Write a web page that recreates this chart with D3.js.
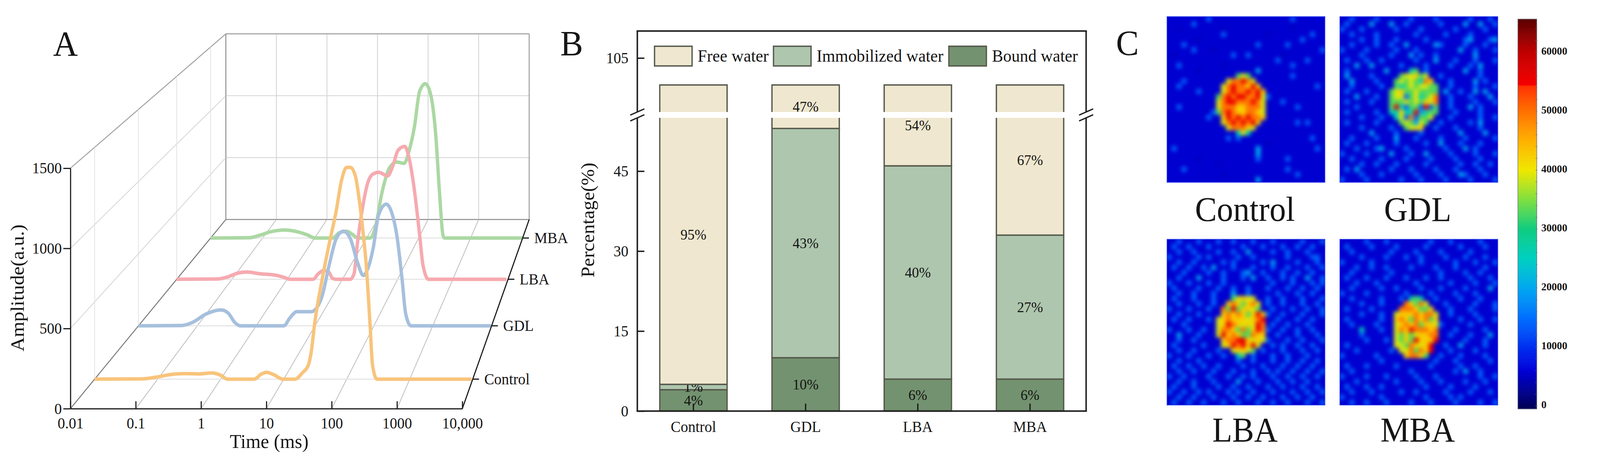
<!DOCTYPE html>
<html><head><meta charset="utf-8">
<script src="https://cdn.jsdelivr.net/npm/d3@7/dist/d3.min.js"></script>
<style>html,body{margin:0;padding:0;background:#fff;overflow:hidden}svg{display:block;width:100vw;height:100vh}text{font-family:"Liberation Serif",serif;fill:#151515}</style>
</head><body><svg id="c" viewBox="0 0 4304 1184" preserveAspectRatio="none"></svg>
<script>
// ---------- Panel A data (log10 of time in ms, amplitude a.u.) ----------
const seriesNames = ["Control","GDL","LBA","MBA"];
const timeTicks = [0.01,0.1,1,10,100,1000,10000];
const timeTickLabels = ["0.01","0.1","1","10","100","1000","10,000"];
const ampTicks = [0,500,1000,1500];
const controlLogT = [-2,-1.24,-1.02,-0.79,-0.57,-0.34,-0.14,0,0.11,0.53,0.65,0.73,0.84,0.99,1.18,1.30,1.39,1.44,1.49,1.60,1.71,1.83,1.92,2.0,2.06,2.14,2.2,2.25,2.31,2.37,2.41,2.48,3.98];
const controlAmp  = [0,2,13,30,36,34,40,25,0,0,34,44,29,0,0,42,90,185,356,623,852,1081,1290,1370,1370,1309,1157,985,738,356,90,0,0];
const gdlLogT = [-2,-1.27,-1.09,-0.85,-0.60,-0.48,-0.36,-0.27,0.47,0.57,0.69,0.94,1.03,1.12,1.24,1.36,1.48,1.60,1.72,1.82,1.90,1.99,2.08,2.21,2.30,2.39,2.48,2.54,2.63,3.99];
const gdlAmp  = [0,2,22,82,110,90,22,0,0,53,98,98,125,206,421,604,655,604,441,349,400,543,768,843,788,625,319,84,0,0];
const lbaLogT = [-2,-1.27,-1.08,-0.89,-0.73,-0.50,-0.21,-0.05,0.05,0.47,0.56,0.66,0.76,0.82,0.88,1.14,1.21,1.27,1.37,1.46,1.56,1.66,1.82,1.91,2.01,2.13,2.20,2.30,2.40,2.46,2.56,3.97];
const lbaAmp  = [0,2,17,46,54,41,30,13,0,0,39,65,50,7,0,0,39,257,540,714,779,790,764,834,954,982,910,671,322,104,0,0];
const mbaLogT = [-2,-1.26,-1.06,-0.85,-0.58,-0.30,-0.13,0,0.35,0.48,0.62,0.72,0.83,1.07,1.17,1.30,1.44,1.58,1.72,1.82,1.92,2.02,2.13,2.23,2.33,2.40,2.47,2.50,4.0];
const mbaAmp  = [0,2,21,49,63,46,23,0,0,42,53,30,0,0,88,366,551,597,586,690,875,1153,1211,1130,806,366,19,0,0];

// ---------- Panel B data ----------
const groups = ["Control","GDL","LBA","MBA"];
const layerNames = ["Bound water","Immobilized water","Free water"];
const boundWater = [4,10,6,6];
const immobilizedWater = [1,43,40,27];
const freeWater = [95,47,54,67];
const percentTicks = [0,15,30,45,105];

// ---------- Panel C data: 32x32 hand-read signal levels (0-9), one image per array ----------
const panelNames = ["Control","GDL","LBA","MBA"];
const levelValues = [4800,5600,14000,20000,26000,33000,39000,42500,49500,55500];
const colorbarTicks = [0,10000,20000,30000,40000,50000,60000];
const controlImage = [
"11111111211111111111111112111111","11111211111111111111111111111111","11011111111011111111111110111111","11111111111211111111011111111211",
"11111101111111111111111111121111","11121111111111111121111121111111","11111211101111111111111111111112","10111111111112112111111011111111",
"11111111111111111111112111112111","11211111111011111111111112111111","11111101111111111131111111111111","11111111111111565111111112111111",
"111211111111"+"688986"+"11111111111111","11211111111"+"68988797"+"1111111111121","11111121111"+"689889897"+"111111111111",
"1111111111"+"5898998896"+"211111111111","1111111111"+"6899888986"+"111211111111","1121111111"+"6888778886"+"111111211111",
"1111111112"+"5898778876"+"111111111111","11111111211"+"798989887"+"111111111111","11111111111"+"68989897"+"1111111212111",
"111111111111"+"688876"+"11111111111111","11111111111111"+"464"+"111111111111111",
"11111111111121211111111111111211","11111111111111111111011111111111","12111111111111111131111111111121","11111111111111111131111111111111",
"11111101111111111121111121111111","11111111110111111111111111111111","11121111111111111111111121111111","11111111111011111111111111211111","11111111111111111131111111111111"];
const gdlImage = [
"11211112111111211112111111211121","12111131113112111111211113113112","21112111111211112111111211111211","11211112111111121111121111211111",
"11112112111211111211111112311123","11211112112113111113211112111211","21111211111211121111111131121112","11112111112111312112111111131111",
"12111211211111121113111211121112","11131131111121111211112111213111","1211111113"+"1111"+"45"+"121111111"+"3"+"112111",
"131111211111"+"566756"+"11211111112111","11311112111"+"56565487"+"111211113"+"1211","11211111211"+"545656655"+"112111121112",
"1211121111"+"5675565555"+"131121131311","1113111211"+"5662564568"+"112111211131","1211112111"+"5556565768"+"112111121112",
"1112111111"+"5942552925"+"112111312111","1211111211"+"4474493455"+"111211112111","11112111211"+"46282556"+"1112111112112",
"121111121111"+"565365"+"11211111213111","1111211111211"+"5667"+"112111211112111",
"11111131111211112111111131111311","11211112111311121111211112111112","12111211111211111211311121112111","11121112311112111111121113121111",
"21111211113111211311112111121112","11211111211112111121111211112111","11112112111211111211111121121121","12131111112111211112111211112111",
"11112111211111121111211132111211","21111211111121112111121111211112"];
const lbaImage = [
"11211121112112111211121111121112","12112111211111121112111211211211","11211211112112113111121121112111","21111121211111211211111121111221",
"11211211111212111112131111211121","12112112131112111211121121112112","11121111211211123112111211211211","11211131111211121311211212113112",
"21112111211211111111121112111212","12111121112112112111211121121121","11211211121113112111112111211211",
"1211121112111"+"56766"+"11211211121112","112111211211"+"7875786"+"1211211121121","21112111211"+"85957765"+"1121112112112",
"11211121111"+"787875797"+"211211121112","1211211121"+"6787776789"+"112111211211","1112111111"+"6798767698"+"121121112111",
"2111211211"+"6887585798"+"211211211211","1131112111"+"6978755877"+"112111211121","11211211111"+"788997676"+"211121121112",
"12111112111"+"67989796"+"1121211211211","1121121111211"+"67765"+"12111211121121","21112111211211"+"45"+"1211121121112111",
"11211121111111211211121121121121","12112112112111121112111211211211","11211211121112111211212112112112","21121111211121121211121121121121",
"11211211121111311121112112112111","12111211112112112111211211121121","21121121211121211211121112112112","11211211121112112112111211211211","12112112111211211121121121112112"];
const mbaImage = [
"11111211121111111121112111112111","12111121111211111211111121111211","11211111112111121111211111211111","11112111121112112111121112111211",
"21111121111111112111111211121112","11121121121111211112111211111211","11211111112111111111211112112111","12111211121112111211211111211121",
"11121112111111121111112111121112","11211111211211112111211112111131","21111211111112111121111211121111",
"11211111211121"+"454"+"112111121112111","1111211121111"+"87586"+"11121111121112","121111211111"+"8887557"+"1112111211112",
"11112111211"+"677787886"+"112111121111","12111111211"+"787587857"+"111121112112","11211112111"+"678785776"+"211111211111",
"11114111211"+"687988878"+"111211111211","11112111111"+"657567788"+"112111211131","11111211121"+"657597779"+"111112111211",
"12111111111"+"66587679"+"1121131111211","111211111121"+"6685879"+"1112111121111","2111111211111"+"78875"+"11211121111211",
"11111111211111111112111211111121","12111211111211111121111121121111","11211111111111211111111213112111","21111211121111121112111111112112",
"11121111111211112111211112111211","12111211211111111211112111121111","11211121111121121111121111211121","21111111211111111211112121111111","11211211121111211121111211112112"];

// ---------- Setup ----------
const svg = d3.select("#c");
const defs = svg.append("defs");
const lerp = (a,b,t)=>a+(b-a)*t;
const lineG = (g,x1,y1,x2,y2,col,w)=>g.append("line").attr("x1",x1).attr("y1",y1).attr("x2",x2).attr("y2",y2).attr("stroke",col).attr("stroke-width",w);
const label = (g,x,y,txt,size,anchor)=>g.append("text").attr("x",x).attr("y",y).attr("font-size",size).attr("text-anchor",anchor||"start").text(txt);

label(svg,143,143,"A",92);
label(svg,1507,142,"B",92);
label(svg,3002,141,"C",92);

// ---------- Panel A: perspective box ----------
const A = svg.append("g");
const box = {fx0:189.4,fx1:1243.6,fy:1047.3,fh:616.2,bx0:607.5,bx1:1423.5,by:562.5,bh:475.7};
const unitX = d3.scaleLog().domain([0.01,10000]).range([0,1]);
const unitY = d3.scaleLinear().domain([0,1500]).range([0,1]);
const depth = d3.scaleOrdinal(seriesNames,[0.156,0.438,0.684,0.902]);
const proj = (time,amp,t)=>[
  lerp(lerp(box.fx0,box.bx0,t),lerp(box.fx1,box.bx1,t),unitX(time)),
  lerp(box.fy,box.by,t)-unitY(amp)*lerp(box.fh,box.bh,t)
];
const seg = (a,b,col,w)=>lineG(A,a[0],a[1],b[0],b[1],col,w);
const tMin=0.01,tMax=10000;
// back wall
timeTicks.slice(1,-1).forEach(v=>seg(proj(v,0,1),proj(v,1500,1),"#cfcfcf",2));
[500,1000].forEach(v=>seg(proj(tMin,v,1),proj(tMax,v,1),"#d4d4d4",2));
seg(proj(tMin,1500,1),proj(tMax,1500,1),"#9a9a9a",2.5);
seg(proj(tMax,0,1),proj(tMax,1500,1),"#9a9a9a",2.5);
seg(proj(tMin,0,1),proj(tMin,1500,1),"#8a8a8a",2.5);
seg(proj(tMin,0,1),proj(tMax,0,1),"#8a8a8a",2.5);
// left wall
[500,1000].forEach(v=>seg(proj(tMin,v,0),proj(tMin,v,1),"#d4d4d4",2));
seg(proj(tMin,1500,0),proj(tMin,1500,1),"#a0a0a0",2.5);
seriesNames.forEach(s=>seg(proj(tMin,0,depth(s)),proj(tMin,1500,depth(s)),"#e2e2e2",2));
// floor
timeTicks.slice(1,-1).forEach(v=>seg(proj(v,0,0),proj(v,0,1),"#bcbcbc",2));
seg(proj(tMin,0,0),proj(tMin,0,1),"#777",2.5);
seriesNames.forEach(s=>seg(proj(tMin,0,depth(s)),proj(tMax,0,depth(s)),"#e6e6e6",3));
// curves, back to front
const curveColors = {Control:"#f8c47c",GDL:"#a6c0dd",LBA:"#f6aab0",MBA:"#abd8a3"};
const curveData = {Control:[controlLogT,controlAmp],GDL:[gdlLogT,gdlAmp],LBA:[lbaLogT,lbaAmp],MBA:[mbaLogT,mbaAmp]};
const lineGen = d3.line().curve(d3.curveMonotoneX);
seriesNames.slice().reverse().forEach(s=>{
  const [lt,am]=curveData[s];
  A.append("path").attr("fill","none").attr("stroke",curveColors[s]).attr("stroke-width",9).attr("stroke-linejoin","round")
   .attr("d",lineGen(lt.map((l,i)=>proj(Math.pow(10,l),am[i],depth(s)))));
});
// depth axis
seg(proj(tMax,0,0),proj(tMax,0,1),"#1a1a1a",3);
seriesNames.forEach(s=>{
  const p=proj(tMax,0,depth(s));
  lineG(A,p[0],p[1],p[0]+17,p[1],"#1a1a1a",3);
  A.append("text").attr("x",p[0]+31).attr("y",p[1]).attr("dy","0.33em").attr("font-size",40).text(s);
});
// front axes
const timeAxisScale = d3.scaleLog().domain([tMin,tMax]).range([box.fx0,box.fx1]);
const ampAxisScale = d3.scaleLinear().domain([0,1500]).range([box.fy,box.fy-box.fh]);
const gx=A.append("g").attr("transform",`translate(0,${box.fy})`)
  .call(d3.axisBottom(timeAxisScale).tickValues(timeTicks).tickFormat((d,i)=>timeTickLabels[i]).tickSize(-19).tickSizeOuter(0).tickPadding(22));
const gy=A.append("g").attr("transform",`translate(${box.fx0},0)`)
  .call(d3.axisLeft(ampAxisScale).tickValues(ampTicks).tickFormat(d3.format("d")).tickSize(19).tickSizeOuter(0).tickPadding(4));
[gx,gy].forEach(g=>{g.selectAll("text").attr("font-size",40).attr("font-family",'"Liberation Serif",serif').attr("fill","#151515");
  g.selectAll("path,line").attr("stroke","#1a1a1a").attr("stroke-width",3);});
label(A,724,1148,"Time (ms)",51,"middle");
A.append("text").attr("transform","translate(64,738) rotate(-90)").attr("text-anchor","middle").attr("font-size",51).text("Amplitude(a.u.)");

// ---------- Panel B ----------
const B = svg.append("g");
const fr={l:1714.4,r:2921.7,t:79.5,b:1053.4};
const yB = d3.scaleLinear().domain([0,55,95,110]).range([fr.b,302,287,fr.t]);
const xB = d3.scaleBand().domain(groups).range([fr.l,fr.r]).padding(0.4).paddingOuter(0.2);
const layerColor = d3.scaleOrdinal(layerNames,["#73926f","#aec6ad","#efe7cf"]);
const stackRows = groups.map((g,i)=>({group:g,"Bound water":boundWater[i],"Immobilized water":immobilizedWater[i],"Free water":freeWater[i]}));
const stacked = d3.stack().keys(layerNames)(stackRows);
const bStroke="#55584c";
stacked.forEach(layer=>{
  layer.forEach(d=>{
    const [a,b]=d, x0=xB(d.data.group), x1=x0+xB.bandwidth();
    const parts = (a<55&&b>95) ? [[a,55,true,false],[95,b,false,true]] : [[a,b,true,true]];
    parts.forEach(([lo,hi,hasBottom,hasTop])=>{
      B.append("rect").attr("x",x0).attr("y",yB(hi)).attr("width",x1-x0).attr("height",yB(lo)-yB(hi)).attr("fill",layerColor(layer.key));
      const p=d3.path();
      p.moveTo(x0,yB(lo)); p.lineTo(x0,yB(hi));
      if(hasTop) p.lineTo(x1,yB(hi)); else p.moveTo(x1,yB(hi));
      p.lineTo(x1,yB(lo));
      if(hasBottom) p.lineTo(x0,yB(lo));
      B.append("path").attr("d",p.toString()).attr("fill","none").attr("stroke",bStroke).attr("stroke-width",3.5);
    });
    B.append("text").attr("x",(x0+x1)/2).attr("y",(yB(a)+yB(b))/2).attr("dy","0.33em").attr("text-anchor","middle").attr("font-size",38)
      .text(`${b-a}%`);
  });
});
const gxB=B.append("g").attr("transform",`translate(0,${fr.b})`)
  .call(d3.axisBottom(xB).tickSize(-19).tickSizeOuter(0).tickPadding(25));
const gyB=B.append("g").attr("transform",`translate(${fr.l},0)`)
  .call(d3.axisLeft(yB).tickValues(percentTicks).tickSize(-19).tickSizeOuter(0).tickPadding(24));
[gxB,gyB].forEach(g=>{g.select(".domain").remove();g.selectAll("text").attr("font-size",40).attr("font-family",'"Liberation Serif",serif').attr("fill","#151515");
  g.selectAll("line").attr("stroke","#1a1a1a").attr("stroke-width",3.5);});
const fc="#1f1f1f", fw=4;
lineG(B,fr.l-2,fr.t,fr.r+2,fr.t,fc,fw);
lineG(B,fr.l-2,fr.b,fr.r+2,fr.b,fc,fw);
[fr.l,fr.r].forEach(x=>{
  lineG(B,x,fr.t,x,yB(95)-1,fc,fw);
  lineG(B,x,yB(55)+1,x,fr.b,fc,fw);
  lineG(B,x-19,yB(95)+8,x+19,yB(95)-8,fc,3.5);
  lineG(B,x-19,yB(55)+8,x+19,yB(55)-8,fc,3.5);
});
B.append("text").attr("transform","translate(1598,564) rotate(-90)").attr("text-anchor","middle").attr("font-size",50).text("Percentage(%)");
const legendOrder=["Free water","Immobilized water","Bound water"];
const legendX=[1760.7,2080.7,2552.4];
legendOrder.forEach((n,i)=>{
  B.append("rect").attr("x",legendX[i]).attr("y",118.5).attr("width",101).attr("height",50.5).attr("fill",layerColor(n)).attr("stroke",bStroke).attr("stroke-width",3.5);
  label(B,legendX[i]+116,158,n,45);
});

// ---------- Panel C ----------
const C = svg.append("g");
const jet = d3.scaleLinear()
  .domain([0,6000,10000,15000,20000,25000,30000,35000,40000,45000,50000,54300,54400,60000,65600])
  .range(["#000060","#0000d8","#0030f0","#0070ff","#00a8f0","#00d0c0","#10cc80","#80e040","#f0e800","#ffb000","#ff7000","#ff3000","#f60000","#c00000","#5a0000"]);
const levelColor = l=>jet(levelValues[l]);
defs.append("filter").attr("id","soft").attr("x","-10%").attr("y","-10%").attr("width","120%").attr("height","120%")
  .attr("color-interpolation-filters","sRGB").append("feGaussianBlur").attr("stdDeviation",5.5);
const imgs=[controlImage,gdlImage,lbaImage,mbaImage];
const imgX=[3139,3604,3139,3604], imgY=[42.3,42.3,613,613], imgS=425.3;
const labelX=[3349,3813.6,3349,3813.6], labelY=[566,566,1131,1131];
const idx=d3.range(32);
imgs.forEach((grid,k)=>{
  const bx=d3.scaleBand().domain(idx).range([imgX[k],imgX[k]+imgS]);
  const by=d3.scaleBand().domain(idx).range([imgY[k],imgY[k]+imgS]);
  defs.append("clipPath").attr("id","cp"+k).append("rect").attr("x",imgX[k]).attr("y",imgY[k]).attr("width",imgS).attr("height",imgS);
  const holder=C.append("g").attr("clip-path",`url(#cp${k})`);
  holder.append("rect").attr("x",imgX[k]).attr("y",imgY[k]).attr("width",imgS).attr("height",imgS).attr("fill",levelColor(1));
  const cellsG=holder.append("g").attr("filter","url(#soft)");
  const cells=[];
  grid.forEach((row,r)=>idx.forEach(c=>cells.push({r,c,l:+(row[c]||1)})));
  cellsG.selectAll("rect").data(cells).join("rect")
    .attr("x",d=>bx(d.c)-0.5).attr("y",d=>by(d.r)-0.5).attr("width",bx.bandwidth()+1).attr("height",by.bandwidth()+1)
    .attr("fill",d=>levelColor(d.l));
  C.append("rect").attr("x",imgX[k]).attr("y",imgY[k]).attr("width",imgS).attr("height",imgS).attr("fill","none").attr("stroke","#4d62f5").attr("stroke-width",1.5);
  label(C,labelX[k],labelY[k],panelNames[k],88,"middle");
});
// colorbar
const cbar={x:4083,w:51,top:49,bottom:1048};
const cbY=d3.scaleLinear().domain([0,60000]).range([1040,134]);
const cbVals=d3.range(cbY.invert(cbar.bottom),cbY.invert(cbar.top),100);
C.append("g").selectAll("rect").data(cbVals).join("rect")
  .attr("x",cbar.x).attr("width",cbar.w).attr("y",d=>cbY(d+100)).attr("height",d=>cbY(d)-cbY(d+100)+0.6).attr("fill",d=>jet(d));
C.append("rect").attr("x",cbar.x).attr("y",cbar.top).attr("width",cbar.w).attr("height",cbar.bottom-cbar.top).attr("fill","none").attr("stroke","#777a88").attr("stroke-width",1.5);
const gc=C.append("g").attr("transform",`translate(${cbar.x+cbar.w},0)`)
  .call(d3.axisRight(cbY).tickValues(colorbarTicks).tickSize(0).tickPadding(12).tickFormat(d3.format("d")));
gc.select(".domain").remove();
gc.selectAll("text").attr("font-size",28).attr("font-family",'"DejaVu Serif",serif').attr("font-weight","bold").attr("fill","#222").attr("dy","0.2em");
C.append("g").selectAll("line").data(d3.range(0,64001,2000)).join("line")
  .attr("x1",cbar.x+cbar.w-4).attr("x2",cbar.x+cbar.w+2).attr("y1",d=>cbY(d)).attr("y2",d=>cbY(d)).attr("stroke","#777").attr("stroke-width",1.5).attr("opacity",0.7);
</script></body></html>
